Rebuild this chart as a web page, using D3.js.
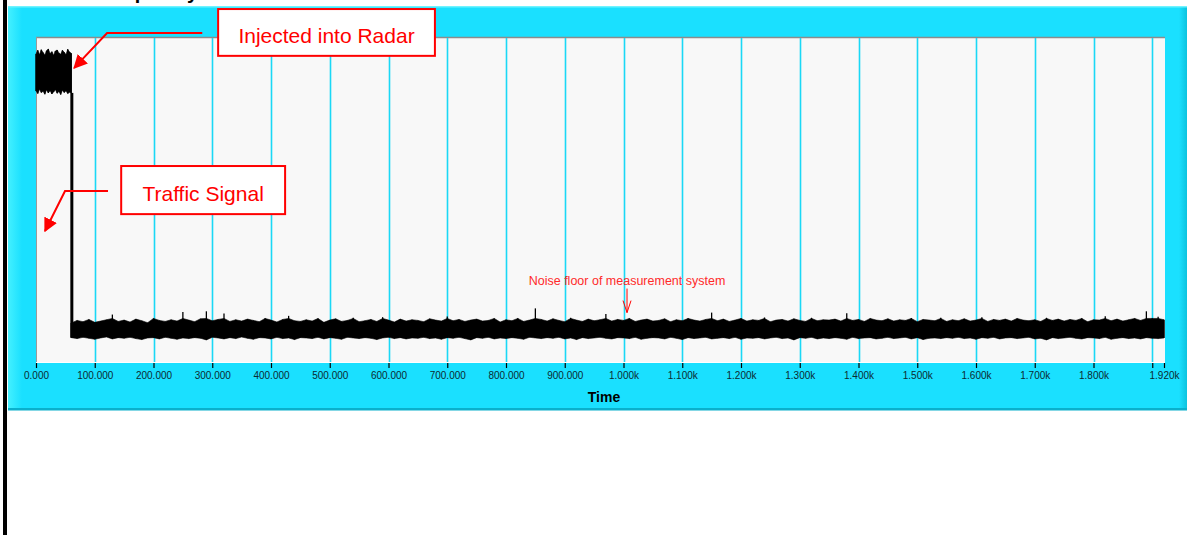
<!DOCTYPE html>
<html>
<head>
<meta charset="utf-8">
<script src="https://cdn.jsdelivr.net/npm/d3@7"></script>
<style>
  body { margin: 0; background: #fff; }
  svg { display: block; font-family: "Liberation Sans", Arial, sans-serif; }
</style>
</head>
<body>
<script>
// ---- data ----
var tickValues = [0,100,200,300,400,500,600,700,800,900,1000,1100,1200,1300,1400,1500,1600,1700,1800,1900,1920];
var tickLabels = ["0.000","100.000","200.000","300.000","400.000","500.000","600.000","700.000","800.000","900.000",
                  "1.000k","1.100k","1.200k","1.300k","1.400k","1.500k","1.600k","1.700k","1.800k","","1.920k"];
var gridValues = [100,200,300,400,500,600,700,800,900,1000,1100,1200,1300,1400,1500,1600,1700,1800,1900];

// injected radar burst, t = 0..60 step 3
var injStep = 3;
var injHi = [94.8,95.9,94.6,96.1,95.2,94.5,95.8,96.3,94.9,95.5,94.4,95.7,96.0,95.1,94.7,95.9,95.3,94.6,96.2,95.4,95.0];
var injLo = [83.4,82.6,83.9,82.9,83.3,82.4,83.7,82.8,83.5,82.5,83.1,83.8,82.7,83.2,82.3,83.6,82.9,83.4,82.6,83.0,82.8];

// noise floor envelope, t = 60..1920 step 10
var floorStart = 60, floorStep = 10;
var floorHi = [
  12.0,12.8,12.4,13.1,12.2,12.6,13.0,14.6,12.5,12.9,
  12.3,13.2,12.7,12.1,13.4,12.8,12.5,13.0,12.6,15.4,
  12.9,12.4,13.3,15.6,12.7,13.1,14.9,12.5,13.0,12.6,
  13.2,12.8,12.4,13.5,12.9,12.3,13.1,14.2,12.7,12.5,
  13.0,12.6,13.4,12.2,12.9,13.3,12.5,12.8,13.6,12.4,
  12.7,13.1,12.5,13.8,12.9,12.3,13.2,12.6,13.0,12.8,
  12.4,13.3,12.9,12.6,14.0,12.7,13.1,12.5,12.9,13.2,
  12.6,12.8,13.4,12.3,13.0,12.7,13.5,12.5,12.9,16.5,
  13.1,12.6,13.3,12.8,12.4,13.6,12.9,12.5,13.2,12.7,
  13.0,14.8,12.6,13.1,12.8,13.4,12.5,12.9,13.2,12.6,
  12.8,13.3,12.4,13.0,12.7,13.5,12.9,12.6,13.1,15.2,
  12.7,13.2,12.5,12.9,13.4,12.6,13.0,12.8,13.7,12.4,
  12.9,13.1,12.6,13.3,12.8,12.5,13.6,12.7,13.0,12.9,
  13.2,12.6,15.0,12.8,13.1,12.5,13.4,12.9,12.7,13.3,
  12.6,13.0,12.8,13.5,12.4,13.1,12.9,12.7,13.6,12.5,
  13.0,12.7,13.3,12.6,12.9,13.8,12.5,13.1,12.8,13.2,
  12.6,13.4,12.9,12.7,13.0,12.5,13.6,12.8,13.2,12.6,
  13.1,12.8,13.5,12.4,13.0,12.9,14.1,12.7,13.2,12.6,
  13.0,13.4,12.8,15.6,13.5,13.9,13.0];
var floorLo = [
  7.5,7.2,7.6,7.3,7.0,7.4,7.7,7.1,7.5,7.3,
  7.6,7.2,6.9,7.4,7.5,7.1,7.6,7.3,7.0,7.4,
  7.2,7.5,7.3,6.8,7.6,7.4,7.1,7.5,7.2,7.7,
  7.3,7.0,7.5,7.4,7.1,7.6,7.2,7.4,6.9,7.5,
  7.4,7.2,7.6,7.1,7.5,7.3,7.0,7.6,7.4,7.2,
  7.5,7.3,6.9,7.4,7.6,7.2,7.5,7.1,7.4,7.3,
  7.6,7.2,7.4,7.0,7.5,7.3,7.6,7.2,6.8,7.5,
  7.3,7.6,7.1,7.4,7.2,7.5,7.3,7.0,7.6,7.4,
  7.2,7.5,7.3,7.6,7.1,7.4,6.9,7.5,7.2,7.4,
  7.6,7.3,7.1,7.5,7.4,7.2,7.6,7.0,7.3,7.5,
  7.4,7.1,7.6,7.3,6.9,7.5,7.2,7.4,7.6,7.1,
  7.3,7.5,7.2,7.6,7.0,7.4,7.3,7.5,7.1,7.4,
  7.6,7.2,7.4,6.8,7.5,7.3,7.6,7.1,7.4,7.2,
  7.5,7.3,7.0,7.6,7.2,7.4,7.5,7.1,7.3,7.6,
  7.2,7.4,7.6,7.1,7.5,6.9,7.3,7.4,7.2,7.5,
  7.3,7.6,7.2,7.4,7.0,7.5,7.3,7.6,7.1,7.4,
  7.5,7.2,7.4,7.6,7.1,7.3,6.8,7.5,7.2,7.4,
  7.6,7.3,7.1,7.5,7.4,7.2,7.6,7.0,7.3,7.5,
  7.2,7.4,7.1,7.5,7.3,7.2,7.4];
var floorCap = 13.4;   // peaks above this are drawn as thin single spikes
var dropTime = 61;

// callouts, in data units (time, level)
var callouts = [
  {text: "Injected into Radar", box: [310, 679, 108.6, 94.2], path: [[283,101.2],[121,101.2],[65,90.5]]},
  {text: "Traffic Signal",      box: [145, 424, 60.3, 45.5],  path: [[122.6,52.6],[49.4,52.6],[15.3,40.3]]}
];
var noiseNote = {text: "Noise floor of measurement system", t: 1006, level: 23.7, from: 22.6, to: 15.2};

// ---- layout ----
var W = 1187, H = 535;
var plot = {left: 36, top: 37, right: 1165, bottom: 363};

var x = d3.scaleLinear().domain([0, 1920]).range([plot.left, 1164]);
var y = d3.scaleLinear().domain([0, 100]).range([362, plot.top]);

var svg = d3.select("body").append("svg").attr("width", W).attr("height", H);
var defs = svg.append("defs");

var gl = defs.append("linearGradient").attr("id", "leftEdge");
gl.append("stop").attr("offset", "0%").attr("stop-color", "#44f0ff");
gl.append("stop").attr("offset", "100%").attr("stop-color", "#1ae0ff");
var gr = defs.append("linearGradient").attr("id", "rightEdge");
gr.append("stop").attr("offset", "0%").attr("stop-color", "#1ae0ff");
gr.append("stop").attr("offset", "100%").attr("stop-color", "#0cc2de");

defs.append("marker").attr("id", "redHead")
    .attr("viewBox", "0 0 10 10").attr("refX", 9).attr("refY", 5)
    .attr("markerWidth", 7).attr("markerHeight", 7).attr("markerUnits", "strokeWidth")
    .attr("orient", "auto")
  .append("path").attr("d", "M0,0 L10,5 L0,10 z").attr("fill", "#ff0000");

// partially cropped title (only its descenders show, as in the original)
svg.append("text").attr("x", 97).attr("y", -1)
    .attr("font-size", 20).attr("font-weight", "bold").attr("fill", "#000")
    .text("Frequency");

// left black bar
svg.append("rect").attr("x", 3).attr("y", 0).attr("width", 4).attr("height", H).attr("fill", "#000");

// cyan panel
svg.append("rect").attr("x", 8).attr("y", 6).attr("width", W - 8).attr("height", 404).attr("fill", "#1ae0ff");
svg.append("rect").attr("x", 8).attr("y", 6).attr("width", 14).attr("height", 404).attr("fill", "url(#leftEdge)");
svg.append("rect").attr("x", 1179).attr("y", 6).attr("width", 8).attr("height", 404).attr("fill", "url(#rightEdge)");
svg.append("rect").attr("x", 8).attr("y", 6).attr("width", W - 8).attr("height", 1.5).attr("fill", "#6ff3ff");
svg.append("rect").attr("x", 8).attr("y", 408).attr("width", W - 8).attr("height", 2.5).attr("fill", "#0ab0cc");

// plot area
svg.append("rect").attr("x", plot.left).attr("y", plot.top)
    .attr("width", plot.right - plot.left).attr("height", plot.bottom - plot.top)
    .attr("fill", "#f8f8f8");
svg.append("line").attr("x1", plot.left).attr("x2", plot.right).attr("y1", plot.top + 0.5).attr("y2", plot.top + 0.5)
    .attr("stroke", "#8c8c8c").attr("stroke-width", 1.5);
svg.append("line").attr("x1", plot.left + 0.5).attr("x2", plot.left + 0.5).attr("y1", plot.top).attr("y2", plot.bottom)
    .attr("stroke", "#9a9a9a").attr("stroke-width", 1);
svg.append("line").attr("x1", plot.left).attr("x2", plot.right).attr("y1", plot.bottom - 0.5).attr("y2", plot.bottom - 0.5)
    .attr("stroke", "#ffffff").attr("stroke-width", 1);

// grid
svg.append("g").selectAll("line").data(gridValues).enter().append("line")
    .attr("x1", function(d) { return Math.round(x(d)) + 0.5; })
    .attr("x2", function(d) { return Math.round(x(d)) + 0.5; })
    .attr("y1", plot.top + 1).attr("y2", plot.bottom - 1)
    .attr("stroke", "#1ad8f6").attr("stroke-width", 1.6);

// x axis
var xAxis = d3.axisBottom(x)
    .tickValues(tickValues)
    .tickSize(5)
    .tickPadding(4)
    .tickFormat(function(d, i) { return tickLabels[i]; });
var ax = svg.append("g").attr("transform", "translate(0," + plot.bottom + ")").call(xAxis);
ax.select(".domain").remove();
ax.selectAll(".tick line").attr("stroke", "#000").attr("stroke-width", 1.2);
ax.selectAll(".tick text").attr("fill", "#0c2a30")
    .attr("font-family", "'Liberation Sans', Arial, sans-serif").attr("font-size", 10);

svg.append("text").attr("x", 604).attr("y", 402).attr("text-anchor", "middle")
    .attr("font-size", 14).attr("font-weight", "bold").attr("fill", "#000").text("Time");

// ---- signal ----
var injData = injHi.map(function(h, i) { return {t: i * injStep, hi: h, lo: injLo[i]}; });
var floorData = floorHi.map(function(h, i) { return {t: floorStart + i * floorStep, hi: h, lo: floorLo[i]}; });

function drawTrace(g, data, cap) {
  // filled min/max band, tall peaks clipped to the cap
  g.append("path").datum(data)
      .attr("d", d3.area()
          .x(function(d) { return x(d.t); })
          .y0(function(d) { return y(d.lo); })
          .y1(function(d) { return y(Math.min(d.hi, cap)); }))
      .attr("fill", "#000").attr("stroke", "#000").attr("stroke-width", 0.6);
  // one thin stroke per sample, min to max
  g.selectAll("line.s").data(data).enter().append("line")
      .attr("x1", function(d) { return x(d.t); })
      .attr("x2", function(d) { return x(d.t); })
      .attr("y1", function(d) { return y(d.lo); })
      .attr("y2", function(d) { return y(d.hi); })
      .attr("stroke", "#000").attr("stroke-width", 1.3);
}

var sig = svg.append("g");
drawTrace(sig.append("g"), injData, 100);
drawTrace(sig.append("g"), floorData, floorCap);

// vertical drop from burst to noise floor
sig.append("line")
    .attr("x1", x(dropTime)).attr("x2", x(dropTime))
    .attr("y1", y(injLo[injLo.length - 1])).attr("y2", y(floorLo[0]))
    .attr("stroke", "#000").attr("stroke-width", 3);

// ---- callouts ----
callouts.forEach(function(c) {
  var bx0 = x(c.box[0]), bx1 = x(c.box[1]), by0 = y(c.box[2]), by1 = y(c.box[3]);
  svg.append("path").datum(c.path)
      .attr("d", d3.line().x(function(d) { return x(d[0]); }).y(function(d) { return y(d[1]); }))
      .attr("fill", "none").attr("stroke", "#ff0000").attr("stroke-width", 2)
      .attr("marker-end", "url(#redHead)");
  svg.append("rect").attr("x", bx0).attr("y", by0).attr("width", bx1 - bx0).attr("height", by1 - by0)
      .attr("fill", "#fff").attr("stroke", "#ff0000").attr("stroke-width", 2);
  svg.append("text").attr("x", (bx0 + bx1) / 2).attr("y", (by0 + by1) / 2 + 11)
      .attr("text-anchor", "middle").attr("font-size", 21).attr("fill", "#ff0000").text(c.text);
});

var nx = x(noiseNote.t);
svg.append("text").attr("x", nx).attr("y", y(noiseNote.level))
    .attr("text-anchor", "middle").attr("font-size", 12.5).attr("fill", "#ff2a2a").text(noiseNote.text);
svg.append("line").attr("x1", nx).attr("x2", nx).attr("y1", y(noiseNote.from)).attr("y2", y(noiseNote.to))
    .attr("stroke", "#ff0000").attr("stroke-width", 1);
svg.append("path")
    .attr("d", "M" + (nx - 4) + "," + (y(noiseNote.to) - 12) + "L" + nx + "," + y(noiseNote.to) + "L" + (nx + 4) + "," + (y(noiseNote.to) - 12))
    .attr("fill", "none").attr("stroke", "#ff0000").attr("stroke-width", 1);
</script>
</body>
</html>
